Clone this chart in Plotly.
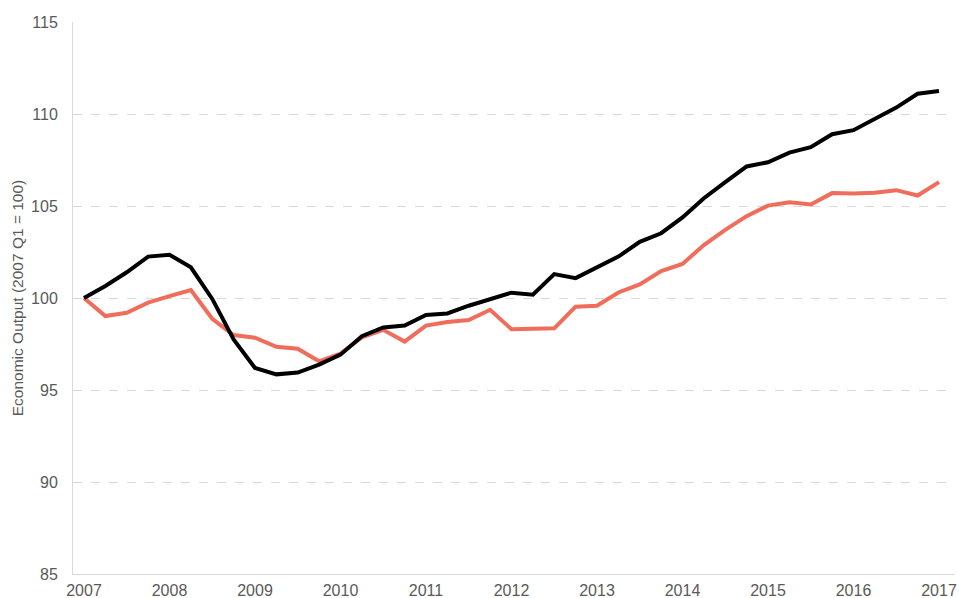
import plotly.graph_objects as go

quarters = [2007 + i * 0.25 for i in range(41)]

black_series = [100.0, 100.65, 101.4, 102.25, 102.35, 101.67, 99.95, 97.75, 96.2, 95.85,
                95.95, 96.38, 96.92, 97.92, 98.4, 98.5, 99.08, 99.16, 99.58, 99.93,
                100.29, 100.18, 101.3, 101.08, 101.65, 102.25, 103.05, 103.52, 104.38, 105.42,
                106.3, 107.15, 107.38, 107.9, 108.2, 108.9, 109.12, 109.75, 110.35, 111.1,
                111.25]

salmon_series = [100.0, 99.02, 99.2, 99.75, 100.1, 100.43, 98.87, 97.99, 97.84, 97.35,
                 97.24, 96.56, 96.98, 97.86, 98.27, 97.63, 98.5, 98.7, 98.8, 99.36,
                 98.3, 98.3, 98.35, 99.53, 99.58, 100.3, 100.74, 101.46, 101.85, 102.88,
                 103.7, 104.45, 105.02, 105.2, 105.08, 105.7, 105.68, 105.72, 105.86, 105.57,
                 106.3]

year_ticks = list(range(2007, 2018))
y_ticks = [85, 90, 95, 100, 105, 110, 115]

fig = go.Figure()
fig.add_trace(go.Scatter(x=quarters, y=salmon_series, mode="lines",
                         line=dict(color="#F06D5B", width=4), showlegend=False))
fig.add_trace(go.Scatter(x=quarters, y=black_series, mode="lines",
                         line=dict(color="#000000", width=4), showlegend=False))

fig.update_layout(
    width=959, height=598,
    margin=dict(l=73, r=4, t=22, b=24),
    paper_bgcolor="white", plot_bgcolor="white",
    font=dict(family="Liberation Sans, Arial, sans-serif", color="#595959", size=16),
    xaxis=dict(range=[2007 - 11 / 85.5, 2017 + 16 / 85.5], tickmode="array",
               tickvals=year_ticks, ticktext=[str(y) for y in year_ticks],
               showgrid=False, zeroline=False, showline=True, linecolor="#d9d9d9",
               linewidth=1, ticks="", ticklabelstandoff=2,
               tickfont=dict(size=16, color="#595959"),
               automargin=False),
    yaxis=dict(range=[85, 115], tickmode="array", tickvals=y_ticks,
               showgrid=True, gridcolor="#d9d9d9", griddash="dash", gridwidth=1,
               zeroline=False, showline=True, linecolor="#d9d9d9", linewidth=1,
               ticks="", ticklabelstandoff=11, tickfont=dict(size=16, color="#595959"),
               title=dict(text="Economic Output (2007 Q1 = 100)",
                          font=dict(size=15.5, color="#595959"), standoff=3),
               automargin=False),
)

fig.write_html("out.html", config={"displayModeBar": False},
               post_script="document.body.style.margin='0';document.body.style.overflow='hidden';")
